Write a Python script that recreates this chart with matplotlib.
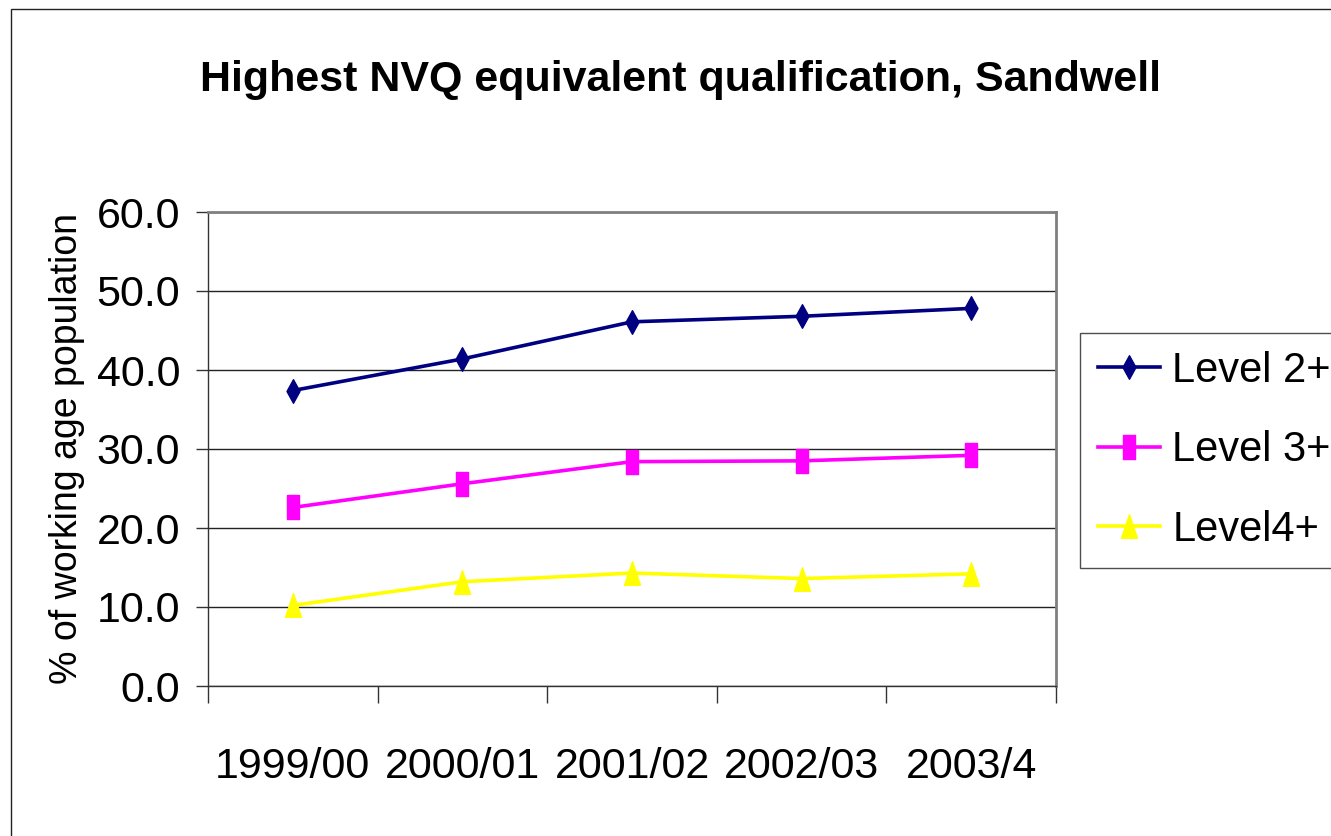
import matplotlib.pyplot as plt
import numpy as np
from matplotlib.path import Path
from matplotlib.patches import Rectangle

years = ['1999/00', '2000/01', '2001/02', '2002/03', '2003/4']
level2 = [37.4, 41.4, 46.1, 46.8, 47.8]
level3 = [22.6, 25.6, 28.4, 28.5, 29.2]
level4 = [10.2, 13.2, 14.3, 13.6, 14.2]

plt.rcParams['font.family'] = ['Liberation Sans', 'DejaVu Sans']

# tall, narrow markers like the old excel export
diamond = Path([(0, 1), (0.55, 0), (0, -1), (-0.55, 0), (0, 1)],
               [Path.MOVETO, Path.LINETO, Path.LINETO, Path.LINETO, Path.CLOSEPOLY])
square = Path([(-0.48, -1), (0.48, -1), (0.48, 1), (-0.48, 1), (-0.48, -1)],
              [Path.MOVETO, Path.LINETO, Path.LINETO, Path.LINETO, Path.CLOSEPOLY])
triangle = Path([(0, 1), (0.68, -1), (-0.68, -1), (0, 1)],
                [Path.MOVETO, Path.LINETO, Path.LINETO, Path.CLOSEPOLY])

fig = plt.figure(figsize=(13.31, 8.36), dpi=100)
ax = fig.add_axes([208/1331, 1-686/836, (1056-208)/1331, (686-212)/836])

x = np.arange(len(years))
ax.plot(x, level2, color='#000080', lw=2.6, marker=diamond, ms=17, label='Level 2+')
ax.plot(x, level3, color='#FF00FF', lw=2.6, marker=square, ms=17, label='Level 3+')
ax.plot(x, level4, color='#FFFF00', lw=2.6, marker=triangle, ms=17, label='Level4+')

ax.set_xlim(-0.5, len(years) - 0.5)
ax.set_ylim(0, 60)
ax.set_yticks(np.arange(0, 61, 10))
ax.set_yticklabels(['%.1f' % v for v in np.arange(0, 61, 10)], fontsize=31)
ax.set_xticks(x)
ax.set_xticklabels(years, fontsize=31)
ax.set_xticks(np.arange(-0.5, len(years)), minor=True)
ax.tick_params(axis='x', which='major', length=0, pad=44)
ax.tick_params(axis='x', which='minor', length=12, width=1, direction='out', color='#333333')
ax.tick_params(axis='y', length=9, width=1, pad=11, color='#333333')
ax.yaxis.grid(True, color='#222222', lw=1)
ax.set_axisbelow(True)

for s in ['top', 'right']:
    ax.spines[s].set_color('#808080')
    ax.spines[s].set_linewidth(2)
for s in ['left', 'bottom']:
    ax.spines[s].set_color('#333333')
    ax.spines[s].set_linewidth(1)

ax.set_ylabel('% of working age population', fontsize=27)
ax.yaxis.set_label_coords(-0.145, 0.5)

fig.text(681/1331, 1-91/836, 'Highest NVQ equivalent qualification, Sandwell',
         ha='center', va='baseline', fontsize=31, fontweight='bold')

leg = fig.legend(loc='upper left', bbox_to_anchor=(1080/1331, 1-333/836),
                 fontsize=30, frameon=True, fancybox=False, borderaxespad=0,
                 handlelength=1.5, handletextpad=0.29, labelspacing=0.95,
                 borderpad=0.43, markerscale=1.0)
leg.get_frame().set_edgecolor('#222222')
leg.get_frame().set_linewidth(1)

fig.patches.append(Rectangle((11/1331, -0.05), 1.1, 1 - 9/836 + 0.05,
                             transform=fig.transFigure, fill=False,
                             edgecolor='#222222', lw=1))

fig.savefig('out.png', dpi=100)
